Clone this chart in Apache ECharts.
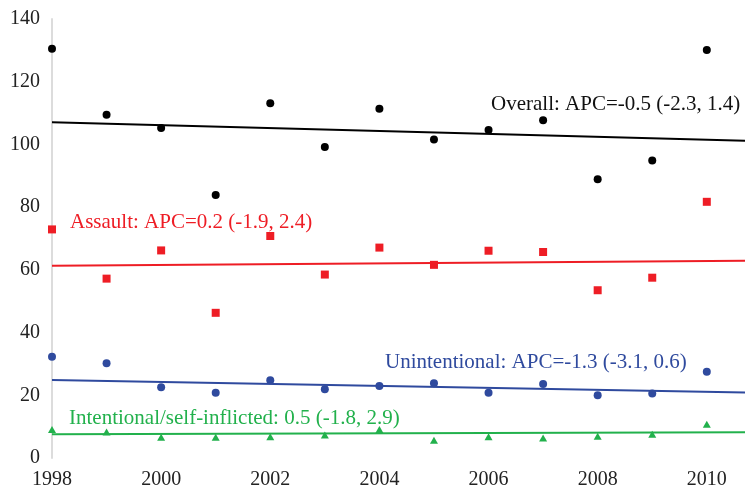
<!DOCTYPE html>
<html>
<head>
<meta charset="utf-8">
<script src="https://cdn.jsdelivr.net/npm/echarts@6/dist/echarts.min.js"></script>
<style>html,body{margin:0;padding:0;background:#fff}#c{width:745px;height:491px}</style>
</head>
<body>
<div id="c"></div>
<script>
const years = [1998,1999,2000,2001,2002,2003,2004,2005,2006,2007,2008,2009,2010];
const overall = [130.5,109.5,105.2,83.9,113.1,99.2,111.4,101.6,104.6,107.7,88.9,94.9,130.1];
const assault = [72.9,57.2,66.2,46.3,70.8,58.5,67.1,61.6,66.1,65.7,53.5,57.5,81.7];
const unintentional = [32.3,30.2,22.6,20.8,24.8,21.9,23.0,23.8,20.8,23.6,20.0,20.6,27.5];
const intentional = [9.1,8.3,6.6,6.6,6.8,7.3,9.1,5.7,6.8,6.4,6.9,7.6,10.8];
const trendX = [1998, 2010.7];
const overallTrend = [107.1, 101.2];
const assaultTrend = [61.3, 62.9];
const unintTrend = [24.9, 20.9];
const intentTrend = [7.6, 8.2];
const labels = [
  'Overall: APC=-0.5 (-2.3, 1.4)',
  'Assault: APC=0.2 (-1.9, 2.4)',
  'Unintentional: APC=-1.3 (-3.1, 0.6)',
  'Intentional/self-inflicted: 0.5 (-1.8, 2.9)'
];

const C = {black:'#000000', red:'#ee1d25', blue:'#2f4a9e', green:'#22b14c'};
const FONT = '"Liberation Serif", "Times New Roman", serif';
const pts = (arr) => years.map((y,i)=>[y, arr[i]]);
const tr = (arr) => trendX.map((x,i)=>[x, arr[i]]);

const chart = echarts.init(document.getElementById('c'));
chart.setOption({
  animation:false,
  grid:{left:52, right:0, top:19, bottom:33, containLabel:false},
  xAxis:{type:'value', min:1998, max:2010.7, interval:2,
    axisLine:{show:false}, axisTick:{show:false}, splitLine:{show:false},
    axisLabel:{showMaxLabel:false, margin:12, color:'#222', fontFamily:FONT, fontSize:20,
      formatter:(v)=> (Number.isInteger(v) ? String(v) : '')}},
  yAxis:{type:'value', min:0, max:140, interval:20,
    axisLine:{show:true, lineStyle:{color:'#dcdcdc', width:2}},
    axisTick:{show:false}, splitLine:{show:false},
    axisLabel:{margin:12, color:'#222', fontFamily:FONT, fontSize:20}},
  series:[
    {type:'line', data:tr(overallTrend), symbol:'none', lineStyle:{color:C.black, width:2}, z:2},
    {type:'line', data:tr(assaultTrend), symbol:'none', lineStyle:{color:C.red, width:2}, z:2},
    {type:'line', data:tr(unintTrend), symbol:'none', lineStyle:{color:C.blue, width:2}, z:2},
    {type:'line', data:tr(intentTrend), symbol:'none', lineStyle:{color:C.green, width:2}, z:2},
    {type:'scatter', data:pts(overall), symbol:'circle', symbolSize:8, itemStyle:{color:C.black, opacity:1}, z:3},
    {type:'scatter', data:pts(assault), symbol:'rect', symbolSize:8, itemStyle:{color:C.red, opacity:1}, z:3},
    {type:'scatter', data:pts(unintentional), symbol:'circle', symbolSize:8, itemStyle:{color:C.blue, opacity:1}, z:3},
    {type:'scatter', data:pts(intentional), symbol:'triangle', symbolSize:[8,7], itemStyle:{color:C.green, opacity:1}, z:3}
  ],
  graphic:[
    {type:'text', x:491, y:104, style:{text:labels[0], fill:'#111', font:'21px '+FONT, verticalAlign:'middle'}},
    {type:'text', x:70, y:222, style:{text:labels[1], fill:C.red, font:'21px '+FONT, verticalAlign:'middle'}},
    {type:'text', x:385, y:362, style:{text:labels[2], fill:C.blue, font:'21px '+FONT, verticalAlign:'middle'}},
    {type:'text', x:69, y:418, style:{text:labels[3], fill:C.green, font:'21px '+FONT, verticalAlign:'middle'}}
  ]
});
</script>
</body>
</html>
